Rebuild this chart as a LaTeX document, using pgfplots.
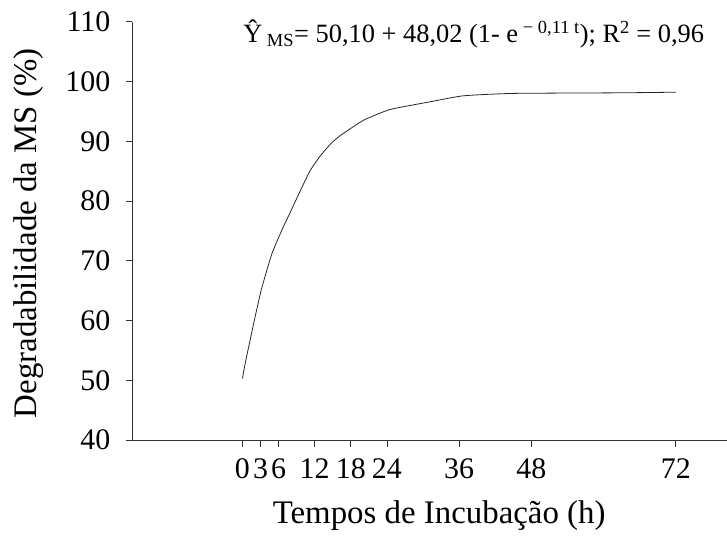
\documentclass[border=0pt]{standalone}
\usepackage{fontspec}
\setmainfont{Liberation Serif}
\usepackage{pgfplots}
\pgfplotsset{compat=1.18}

\begin{document}
\begin{tikzpicture}
    \begin{axis}[
            name=ax,
            scale only axis,
            width=594.7bp, height=418.3bp,
            xmin=-18.3, xmax=80.5,
            ymin=40, ymax=110,
            axis x line=bottom,
            axis y line=left,
            axis line style={-, black!80, line width=0.8pt},
            xtick={0,3,6,12,18,24,36,48,72},
            ytick={40,50,...,110},
            tick align=outside,
            major tick length=6.5bp,
            tick style={black!80, line width=0.8pt},
            /pgf/number format/assume math mode=true,
            ticklabel style={font=\fontsize{30}{33}\selectfont},
            xticklabel style={yshift=-9bp},
            yticklabel style={xshift=-12bp},
            label style={font=\fontsize{33}{36}\selectfont},
            xlabel={Tempos de Incubação (h)},
            ylabel={Degradabilidade da MS (\%)},
            xlabel style={at={(axis description cs:0.516,-0.18)}, anchor=center},
            ylabel style={at={(axis description cs:-0.175,0.494)}, anchor=center},
            clip=false,
        ]
        \addplot[black!85, line width=0.8pt, mark=none, smooth, tension=0.3] coordinates {
            (0,50.3)(0.45,52.8)(2.1,60.6)(3.2,65.4)(4.9,71.2)(6.8,75.7)
            (7.9,78.0)(9.0,80.4)(11.2,85.0)(12.9,87.5)(14.6,89.5)(16.2,90.9)
            (20.1,93.5)(24.5,95.3)(31.2,96.6)(36.7,97.6)(45,98.0)(62.7,98.1)(72,98.2)
        };
        \node[anchor=base west, inner sep=0pt, font=\fontsize{26.5}{29}\selectfont]
            at (axis cs:0.1,106.55)
            {Ŷ\textsubscript{ MS}= 50,10 + 48,02 (1- e\textsuperscript{ − 0,11 t}); R\textsuperscript{2} = 0,96};
    \end{axis}
    \pgfresetboundingbox
    \path[use as bounding box] (ax.south west) ++(-132.3bp,-105bp) rectangle ++(727bp,545bp);
\end{tikzpicture}
\end{document}
